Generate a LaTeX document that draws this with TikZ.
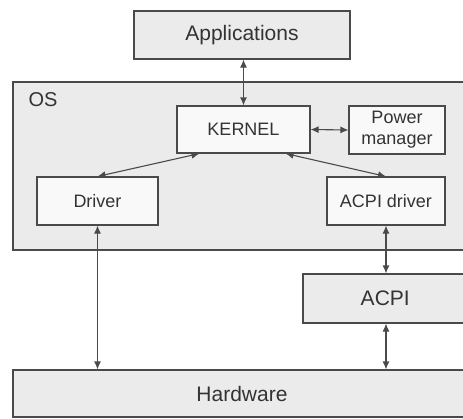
\documentclass[tikz,border=0pt]{standalone}
\usepackage{fontspec}
\setmainfont{Liberation Sans}
\usetikzlibrary{arrows.meta}
\definecolor{boxfill}{HTML}{EBEBEB}
\definecolor{innerfill}{HTML}{F9F9F9}
\definecolor{linec}{HTML}{4A4A4A}
\definecolor{textc}{HTML}{333333}
\begin{document}
\begin{tikzpicture}[x=1pt,y=-1pt,
  box/.style={draw=linec,line width=1.1pt,fill=boxfill,text=textc,inner sep=0pt,align=center},
  inner/.style={box,fill=innerfill,font=\fontsize{18}{21}\selectfont},
  big/.style={font=\fontsize{21}{25}\selectfont},
  arr/.style={draw=linec,line width=1.1pt,{Latex[length=8pt,width=7pt]}-{Latex[length=8pt,width=7pt]}}]
\useasboundingbox (0,0) rectangle (463,418);
\node[box,big,minimum width=216pt,minimum height=48pt] (app) at (242,35) {Applications};
\node[box,minimum width=455pt,minimum height=168pt] (os) at (240.5,166) {};
\node[anchor=west,text=textc,font=\fontsize{20}{23}\selectfont] (oslbl) at (25,100) {OS};
\node[inner,minimum width=133pt,minimum height=47pt] (kernel) at (243.5,129.5) {KERNEL};
\node[inner,minimum width=96pt,minimum height=48pt] (pm) at (397,130) {Power\\manager};
\node[inner,minimum width=121pt,minimum height=48pt] (driver) at (97.5,201) {Driver};
\node[inner,minimum width=118pt,minimum height=48pt] (acpid) at (386,201) {ACPI driver};
\node[box,big,minimum width=165pt,minimum height=49pt,text width=165pt] (acpi) at (385.5,298.5) {\hspace*{-0.5pt}ACPI};
\node[box,big,minimum width=455pt,minimum height=47pt] (hw) at (240.5,393.5) {\hspace*{3pt}Hardware};
\draw[arr] (kernel.north) -- (kernel.north |- app.south);
\draw[arr] (kernel.east) -- (pm.west);
\draw[arr] ([xshift=23pt]kernel.south west) -- (driver.north);
\draw[arr] ([xshift=-25pt]kernel.south east) -- (acpid.north);
\draw[arr] (driver.south) -- (driver.south |- hw.north);
\draw[arr] (acpid.south) -- (acpid.south |- acpi.north);
\draw[arr] (acpid.south |- acpi.south) -- (acpid.south |- hw.north);
\end{tikzpicture}
\end{document}
